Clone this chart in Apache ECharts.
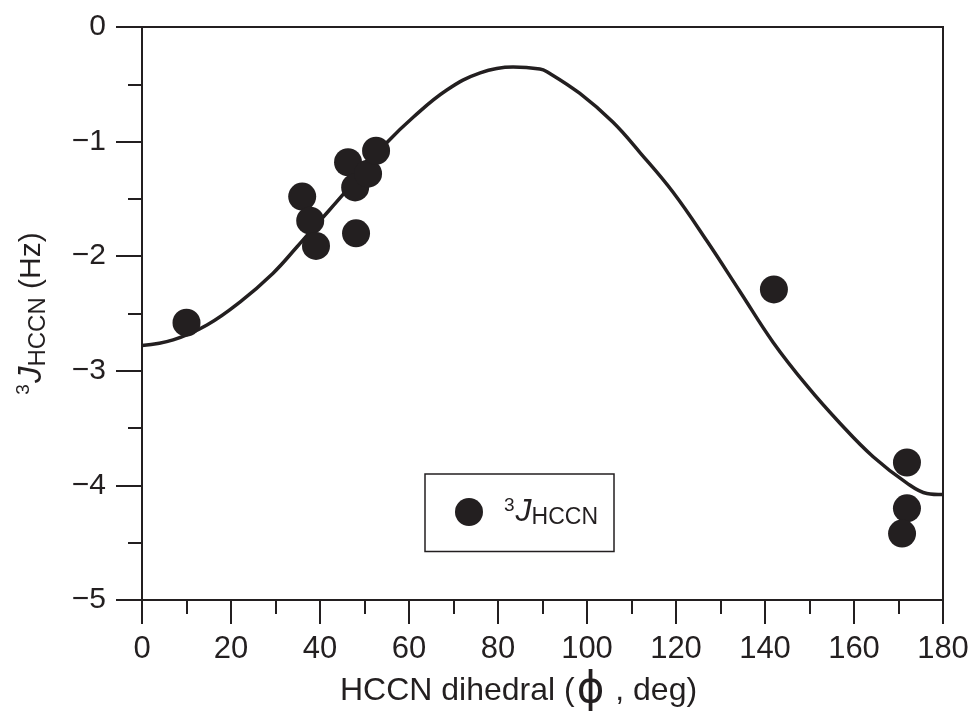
<!DOCTYPE html>
<html>
<head>
<meta charset="utf-8">
<script src="https://cdn.jsdelivr.net/npm/echarts@6/dist/echarts.min.js"></script>
<style>
  html, body { margin:0; padding:0; background:#fff; }
  #main { width:976px; height:718px; }
</style>
</head>
<body>
<div id="main"></div>
<script>
// measured couplings (phi in deg, J in Hz)
var phiObs = [10, 36, 37.8, 39.1, 46.3, 47.9, 48.1, 50.8, 52.6, 142, 171.9, 171.9, 170.8];
var jObs   = [-2.58, -1.48, -1.69, -1.91, -1.18, -1.40, -1.80, -1.28, -1.08, -2.29, -3.80, -4.20, -4.42];

// fitted Karplus curve
var phiFit = [0, 7, 14.6, 22, 29.4, 34.8, 40, 45, 50, 55, 61, 68.5, 76, 83.4, 89.4, 91,
              98.4, 105.8, 112, 119.3, 127, 134.4, 141.8, 149.4, 156.9, 164.3, 171.9, 176.4, 180];
var jFit   = [-2.78, -2.73, -2.60, -2.40, -2.15, -1.92, -1.69, -1.47, -1.24, -1.01, -0.785, -0.55, -0.40, -0.35, -0.366, -0.39,
              -0.58, -0.83, -1.10, -1.44, -1.87, -2.31, -2.75, -3.13, -3.46, -3.75, -3.98, -4.07, -4.08];

var ink = '#231f20';
var font = 'Liberation Sans';

var obsData = [];
for (var i = 0; i < phiObs.length; i++) obsData.push([phiObs[i], jObs[i]]);
var fitData = [];
for (var k = 0; k < phiFit.length; k++) fitData.push([phiFit[k], jFit[k]]);

var jRich = {
  sup:{fontFamily:font, fontSize:19, color:ink, verticalAlign:'top', padding:[0,1,12,0]},
  j:{fontFamily:font, fontSize:33, fontStyle:'italic', color:ink},
  sub:{fontFamily:font, fontSize:24, color:ink, padding:[12,0,0,0]},
  a:{fontFamily:font, fontSize:30, color:ink}
};

var chart = echarts.init(document.getElementById('main'));
chart.setOption({
  animation:false,
  backgroundColor:'#fff',
  grid:{left:142, right:33, top:27, bottom:118, outerBoundsMode:'none', containLabel:false,
        show:true, borderColor:ink, borderWidth:2},
  legend:{
    left:425, top:474,
    padding:[22, 16, 22, 30],
    borderColor:ink, borderWidth:1.5,
    itemWidth:28, itemHeight:28,
    data:[{name:'obs', icon:'circle'}],
    formatter:function(){ return '{pad|}{sup|3}{j|J}{sub|HCCN}'; },
    textStyle:{rich:{
      pad:{width:16},
      sup:{fontFamily:font, fontSize:19, color:ink, padding:[0,1,12,0]},
      j:{fontFamily:font, fontSize:32, fontStyle:'italic', color:ink},
      sub:{fontFamily:font, fontSize:23, color:ink, padding:[12,0,0,0]}
    }}
  },
  xAxis:{
    type:'value', min:0, max:180, interval:20,
    name:'{a|HCCN dihedral (}{phi|ϕ}{a| , deg)}',
    nameLocation:'middle', nameGap:70,
    nameTextStyle:{padding:[0, 48, 0, 0], rich:{
      a:{fontFamily:font, fontSize:32, color:ink},
      phi:{fontFamily:'DejaVu Sans', fontSize:42, color:ink, padding:[0,2,0,2]}
    }},
    axisLine:{onZero:false, lineStyle:{color:ink, width:2}},
    axisTick:{inside:false, length:24, lineStyle:{color:ink, width:2}},
    minorTick:{show:true, splitNumber:2, length:14, lineStyle:{color:ink, width:2}},
    axisLabel:{margin:34, fontFamily:'Liberation Sans Narrow, Liberation Sans', fontSize:31, color:ink},
    splitLine:{show:false}
  },
  yAxis:{
    type:'value', min:-5, max:0, interval:1,
    name:'{sup|3}{j|J}{sub|HCCN}{a| (Hz)}',
    nameLocation:'middle', nameGap:92,
    nameTextStyle:{rich:jRich},
    axisLine:{onZero:false, lineStyle:{color:ink, width:2}},
    axisTick:{inside:false, length:26, lineStyle:{color:ink, width:2}},
    minorTick:{show:true, splitNumber:2, length:14, lineStyle:{color:ink, width:2}},
    axisLabel:{margin:36, fontFamily:font, fontSize:30, color:ink,
      formatter:function(v){ return v < 0 ? '\u2212' + (-v) : String(v); }},
    splitLine:{show:false}
  },
  series:[
    {
      name:'fit', type:'line', data:fitData, smooth:0.4, showSymbol:false, symbol:'none',
      lineStyle:{color:ink, width:3.5}, z:2
    },
    {
      name:'obs', type:'scatter', data:obsData, symbol:'circle', symbolSize:28,
      itemStyle:{color:ink, opacity:1}, z:3
    }
  ]
});
</script>
</body>
</html>
